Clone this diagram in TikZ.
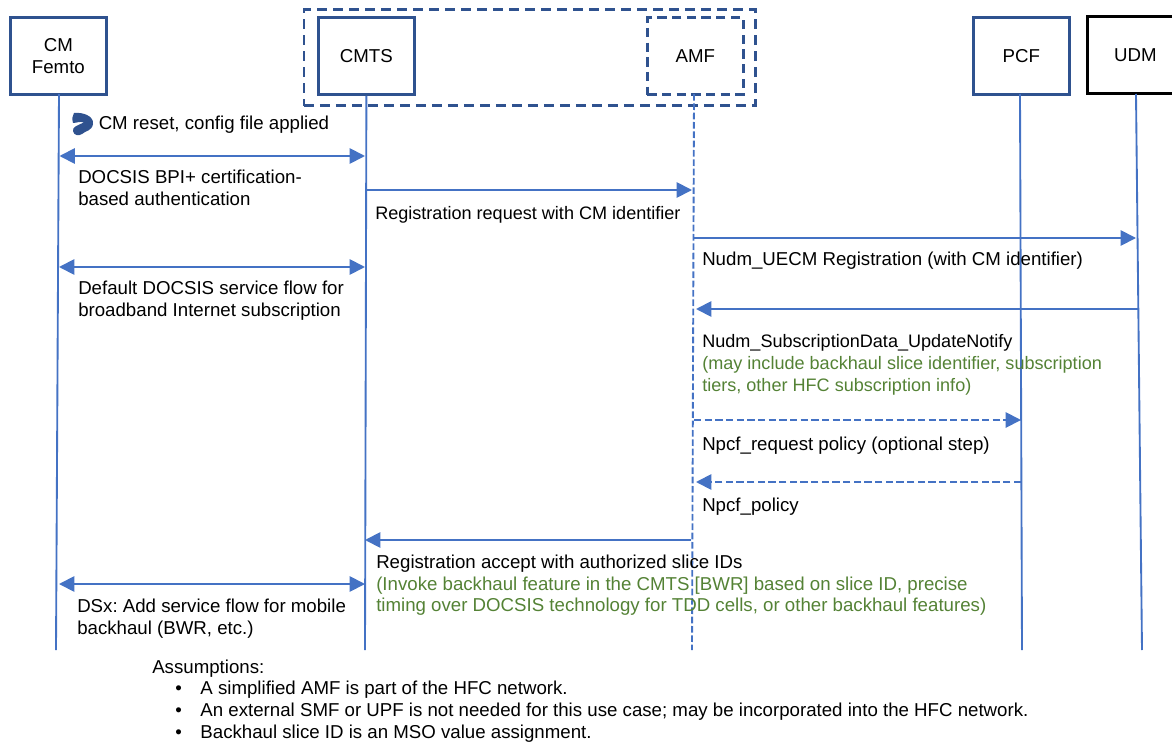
\documentclass[tikz,border=0pt]{standalone}
\usepackage{fontspec}
\setmainfont{Liberation Sans}
\usetikzlibrary{arrows.meta}
\definecolor{boxblue}{RGB}{47,82,143}
\definecolor{lineblue}{RGB}{68,114,196}
\definecolor{notegreen}{RGB}{84,130,53}
\frenchspacing
\begin{document}
\begin{tikzpicture}[x=0.75pt, y=-0.75pt]
	\tikzset{entity/.style={draw=boxblue, line width=2.1pt, align=center, font=\fontsize{14}{16.3}\selectfont, inner sep=0, anchor=north west}}
	\tikzset{life/.style={draw=lineblue, line width=1.4pt}}
	\tikzset{ar/.style={-{Triangle[length=11.5pt, width=11.5pt]}, draw=lineblue, line width=1.4pt}}
	\tikzset{dar/.style={{Triangle[length=11.5pt, width=11.5pt]}-{Triangle[length=11.5pt, width=11.5pt]}, draw=lineblue, line width=1.4pt}}
	\tikzset{dashar/.style={ar, dash pattern=on 5.5pt off 2.5pt}}
	\tikzset{msg/.style={anchor=north west, align=left, inner sep=0, font=\fontsize{14}{16.3}\selectfont}}
	\tikzset{msgsmall/.style={msg, font=\fontsize{13.55}{16.3}\selectfont}}
	\useasboundingbox (0,0) rectangle (1172,742);
	\node[entity, minimum width=72pt, minimum height=57.5pt] (cm) at (9,16.5) {CM\\Femto};
	\node[entity, minimum width=72pt, minimum height=57.5pt] (cmts) at (317,16.5) {CMTS};
	\node[entity, dash pattern=on 7pt off 4pt, minimum width=72pt, minimum height=57.5pt] (amf) at (646,16.5) {AMF};
	\node[entity, minimum width=72pt, minimum height=57.5pt] (pcf) at (972,16.5) {PCF};
	\node[entity, draw=black, minimum width=72pt, minimum height=57.5pt] (udm) at (1086,15.5) {UDM};
	\node[draw=boxblue, line width=2.1pt, dash pattern=on 7.5pt off 4.5pt, inner sep=0, minimum width=338.5pt, minimum height=72pt, anchor=north west] (core) at (302.5,8.5) {};
	\coordinate (cmend) at (56,650);
	\coordinate (cmtsend) at (365,650);
	\coordinate (amfend) at (692,650);
	\coordinate (pcfend) at (1022,650);
	\coordinate (udmend) at (1142,650);
	\coordinate (cmtop) at (59,94);
	\coordinate (amftop) at (694,94);
	\coordinate (pcftop) at (1020,94);
	\coordinate (udmtop) at (1136,94);
	\draw[life] (cmtop) -- (cmend);
	\draw[life] (cmts.south) -- (cmtsend);
	\draw[life, dash pattern=on 5pt off 2pt] (amftop) -- (amfend);
	\draw[life] (pcftop) -- (pcfend);
	\draw[life] (udmtop) -- (udmend);
	% messages
	\coordinate (a1) at (59.5,156); \coordinate (b1) at (365,156);
	\coordinate (b2) at (365,190); \coordinate (c2) at (692,190);
	\coordinate (c3) at (694,238); \coordinate (e3) at (1136,238);
	\coordinate (a4) at (59,267); \coordinate (b4) at (365,267);
	\coordinate (e5) at (1138,309); \coordinate (c5) at (696,309);
	\coordinate (c6) at (694,420); \coordinate (d6) at (1021,420);
	\coordinate (d7) at (1021,482); \coordinate (c7) at (696,482);
	\coordinate (c8) at (691,540); \coordinate (b8) at (365,540);
	\coordinate (a9) at (59,584); \coordinate (b9) at (365,584);
	\draw[dar] (a1) -- (b1);
	\draw[ar] (b2) -- (c2);
	\draw[ar] (c3) -- (e3);
	\draw[dar] (a4) -- (b4);
	\draw[ar] (e5) -- (c5);
	\draw[dashar] (c6) -- (d6);
	\draw[dashar] (d7) -- (c7);
	\draw[ar] (c8) -- (b8);
	\draw[dar] (a9) -- (b9);
	% reset icon
	\fill[boxblue] (74,113) .. controls (83,112) and (94,116) .. (93,124) .. controls (92,131) and (85,131) .. (82,134) .. controls (79,136) and (74,136) .. (73,131) .. controls (72,127) and (78,125) .. (84,122.5) .. controls (80,121) and (76,123) .. (73,123) .. controls (72,119) and (72,116) .. (74,113) -- cycle;
	% labels
	\node[msg] (t1) at (98.5,116) {CM reset, config file applied};
	\node[msg] (t2) at (78,169.5) {DOCSIS BPI+ certification-\\based authentication};
	\node[msgsmall] (t3) at (375,206) {Registration request with CM identifier};
	\node[msg] (t4) at (702,252) {Nudm\_UECM Registration (with CM identifier)};
	\node[msg] (t5) at (78,281) {Default DOCSIS service flow for\\broadband Internet subscription};
	\node[msgsmall] (t6) at (702,334.5) {Nudm\_SubscriptionData\_UpdateNotify\\\textcolor{notegreen}{(may include backhaul slice identifier, subscription}\\\textcolor{notegreen}{tiers, other HFC subscription info)}};
	\node[msg] (t7) at (702,437) {Npcf\_request policy (optional step)};
	\node[msg] (t8) at (702,498) {Npcf\_policy};
	\node[msg] (t9) at (376,554.5) {Registration accept with authorized slice IDs\\\textcolor{notegreen}{(Invoke backhaul feature in the CMTS [BWR] based on slice ID, precise}\\\textcolor{notegreen}{timing over DOCSIS technology for TDD cells, or other backhaul features)}};
	\node[msg] (t10) at (77,599) {DSx: Add service flow for mobile\\backhaul (BWR, etc.)};
	\node[msg] (t11) at (152,660) {Assumptions:};
	\node[msg] (t12) at (175,681) {•\hspace{14pt}A simplified AMF is part of the HFC network.\\•\hspace{14pt}An external SMF or UPF is not needed for this use case; may be incorporated into the HFC network.\\•\hspace{14pt}Backhaul slice ID is an MSO value assignment.};
\end{tikzpicture}
\end{document}
